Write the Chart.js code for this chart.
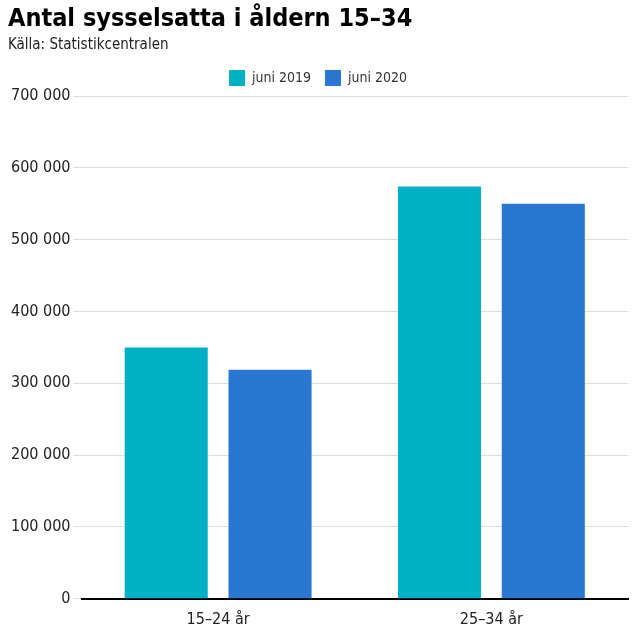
<!DOCTYPE html>
<html><head><meta charset="utf-8">
<script src="https://cdn.jsdelivr.net/npm/chart.js@4"></script>
<style>body{margin:0;background:#fff}#w{width:640px;height:640px}</style>
</head><body><div id="w"><canvas id="c"></canvas></div>
<script>
const categories = ["15–24 år", "25–34 år"];
const series2019 = [350000, 574000];
const series2020 = [319000, 550000];
const seriesNames = ["juni 2019", "juni 2020"];
const F = "'DejaVu Sans Condensed', Roboto, sans-serif";
new Chart(document.getElementById('c'), {
  type: 'bar',
  data: { labels: categories, datasets: [
    { label: seriesNames[0], data: series2019, backgroundColor: '#00b1c5' },
    { label: seriesNames[1], data: series2020, backgroundColor: '#2a77d3' }
  ]},
  options: {
    responsive: true, maintainAspectRatio: false, animation: false,
    layout: { padding: { left: 8, right: 12, bottom: 8 } },
    datasets: { bar: { categoryPercentage: 0.76, barPercentage: 0.8 } },
    plugins: {
      title: { display: true, text: 'Antal sysselsatta i åldern 15–34', align: 'start', color: '#000',
        font: { family: F, size: 25, weight: 'bold' }, padding: { top: 4, bottom: 2 } },
      subtitle: { display: true, text: 'Källa: Statistikcentralen', align: 'start', color: '#222',
        font: { family: F, size: 15 }, padding: { bottom: 2 } },
      legend: { labels: { boxWidth: 16, boxHeight: 16, color: '#333', padding: 14, font: { family: F, size: 14 } } },
      tooltip: { enabled: false }
    },
    scales: {
      x: { grid: { display: false }, border: { color: '#000', width: 2 },
        ticks: { color: '#222', font: { family: F, size: 16 } } },
      y: { min: 0, max: 700000, border: { display: false },
        grid: { color: '#dddddd' },
        ticks: { stepSize: 100000, color: '#222', font: { family: F, size: 16 },
          callback: v => v === 0 ? '0' : v.toLocaleString('sv-SE').replace(/\s/g, ' ') } }
    }
  }
});
</script></body></html>
